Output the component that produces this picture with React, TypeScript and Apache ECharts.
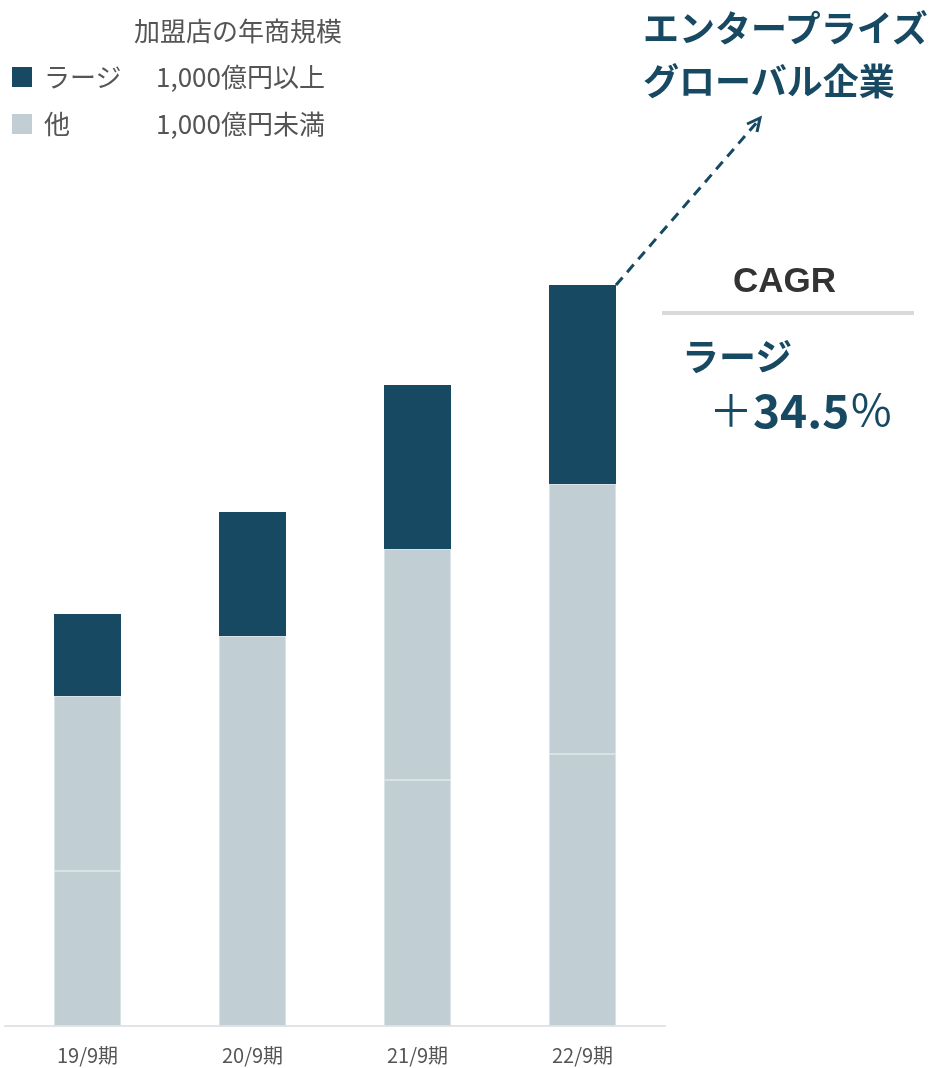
import React, { useEffect, useRef } from "react";
import * as echarts from "echarts";

const categories = ["19/9期", "20/9期", "21/9期", "22/9期"];
const otherLower = [155, 0, 246, 272];
const otherUpper = [175, 390, 231, 270];
const large = [82, 124, 164, 199];

const DARK = "#174a62";
const LIGHT = "#c1cfd4";
const FONT = "'Noto Sans CJK JP', 'Noto Sans', sans-serif";

export default function App() {
  const ref = useRef<HTMLDivElement>(null);
  useEffect(() => {
    const chart = echarts.init(ref.current!, null, { renderer: "svg" });
    const lightStyle = { color: LIGHT, borderColor: "#d9e2e5", borderWidth: 1 };
    const legendText = (text: string, left: number, top: number) => ({
      type: "text",
      left,
      top,
      style: { text, fill: "#555", fontSize: 26, fontFamily: FONT },
    });
    chart.setOption({
      animation: false,
      textStyle: { fontFamily: FONT },
      grid: { left: 5, right: 281, top: 226, bottom: 42 },
      xAxis: {
        type: "category",
        data: categories,
        axisLine: { lineStyle: { color: "#e2e4e5", width: 2 } },
        axisTick: { show: false },
        axisLabel: { color: "#555", fontSize: 20, lineHeight: 20, margin: 18, fontFamily: FONT },
      },
      yAxis: { type: "value", min: 0, max: 800, show: false, splitLine: { show: false } },
      series: [
        { type: "bar", stack: "a", data: otherLower, barWidth: 67, itemStyle: lightStyle },
        { type: "bar", stack: "a", data: otherUpper, barWidth: 67, itemStyle: lightStyle },
        { type: "bar", stack: "a", data: large, barWidth: 67, itemStyle: { color: DARK } },
      ],
      graphic: [
        legendText("加盟店の年商規模", 134, 16),
        { type: "rect", shape: { x: 12, y: 67, width: 20, height: 20 }, style: { fill: DARK } },
        legendText("ラージ", 44, 62),
        legendText("1,000億円以上", 156, 62),
        { type: "rect", shape: { x: 12, y: 114, width: 20, height: 20 }, style: { fill: LIGHT } },
        legendText("他", 44, 109),
        legendText("1,000億円未満", 156, 109),
        { type: "text", left: 643, top: 6, style: { text: "エンタープライズ", fill: DARK, fontSize: 36, lineHeight: 40, fontWeight: "bold", fontFamily: FONT } },
        { type: "text", left: 643, top: 59, style: { text: "グローバル企業", fill: DARK, fontSize: 36, lineHeight: 40, fontWeight: "bold", fontFamily: FONT } },
        {
          type: "line",
          shape: { x1: 616, y1: 285, x2: 758, y2: 121 },
          style: { stroke: DARK, lineWidth: 3, lineDash: [10, 7] },
        },
        {
          type: "polyline",
          shape: { points: [[747, 124], [760, 118], [757, 132]] },
          style: { stroke: DARK, lineWidth: 3, fill: null },
        },
        { type: "text", left: 733, top: 262, style: { text: "CAGR", fill: "#333", fontSize: 35, fontWeight: "bold", fontFamily: "'Liberation Sans', Arial, sans-serif" } },
        { type: "line", shape: { x1: 662, y1: 313, x2: 914, y2: 313 }, style: { stroke: "#d9d9d9", lineWidth: 4 } },
        { type: "text", left: 682, top: 336, style: { text: "ラージ", fill: DARK, fontSize: 37, lineHeight: 36, fontWeight: "bold", fontFamily: FONT } },
        {
          type: "text",
          left: 709,
          top: 385,
          style: {
            text: "{p|＋}{n|34.5}{p|％}",
            fill: DARK,
            fontFamily: FONT,
            rich: {
              p: { fontSize: 44, lineHeight: 42, fontWeight: "normal", fill: DARK, fontFamily: FONT },
              n: { fontSize: 46, lineHeight: 42, fontWeight: "bold", fill: DARK, fontFamily: FONT },
            },
          },
        },
      ],
    });
    return () => chart.dispose();
  }, []);
  return <div ref={ref} style={{ position: "fixed", left: 0, top: 0, width: 946, height: 1068 }} />;
}
